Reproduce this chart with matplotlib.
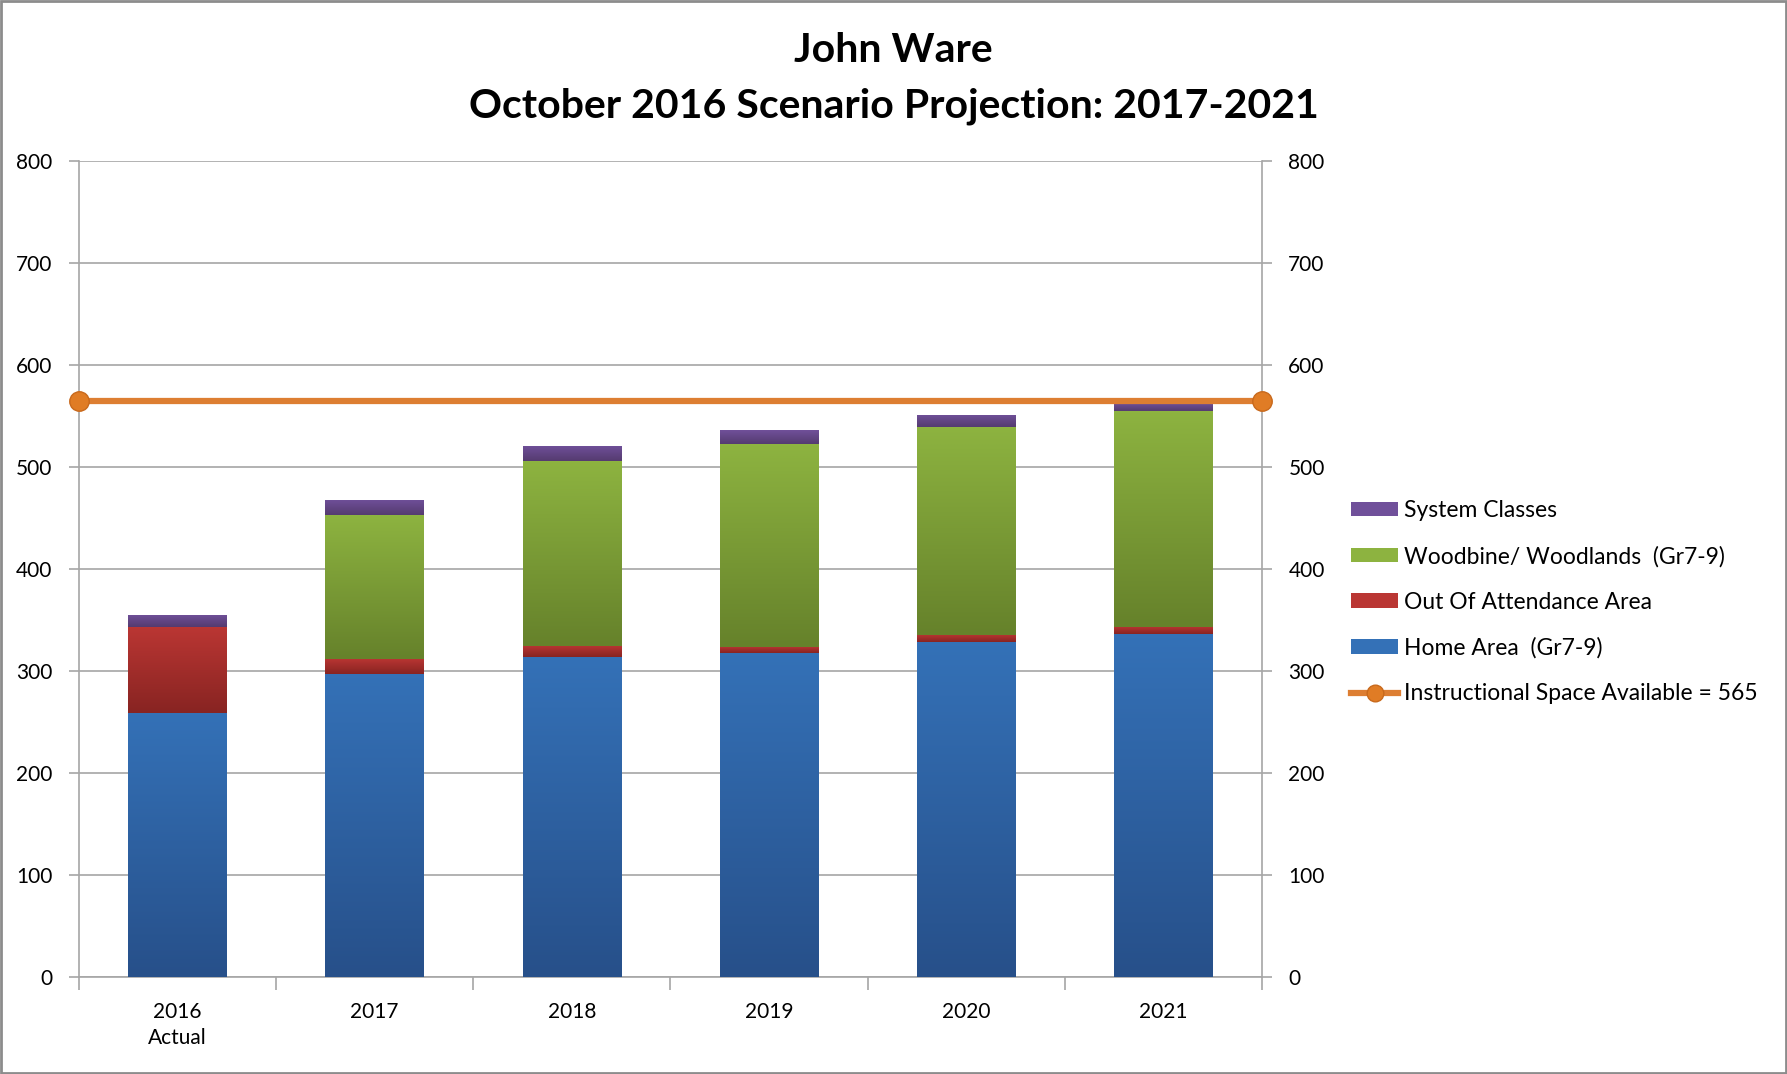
import numpy as np
import matplotlib
matplotlib.use("Agg")
import matplotlib.pyplot as plt
from matplotlib.colors import LinearSegmentedColormap
from matplotlib.patches import Rectangle, Patch
from matplotlib.lines import Line2D

plt.rcParams['font.family'] = ['Lato', 'DejaVu Sans']

categories = ["2016\nActual", "2017", "2018", "2019", "2020", "2021"]
home_area = [259, 297, 314, 318, 328, 336]
out_of_attendance = [84, 15, 11, 6, 7, 7]
woodbine = [0, 141, 181, 199, 204, 212]
system_classes = [12, 15, 15, 13, 12, 7]
capacity = 565

series = [
    ("Home Area  (Gr7-9)", home_area, "#3471B7", "#27508A"),
    ("Out Of Attendance Area", out_of_attendance, "#BA3633", "#882422"),
    ("Woodbine/ Woodlands  (Gr7-9)", woodbine, "#8DB340", "#66822B"),
    ("System Classes", system_classes, "#70509A", "#553B70"),
]

fig = plt.figure(figsize=(17.87, 10.74), dpi=100)
ax = fig.add_axes([0.0442, 0.0903, 0.662, 0.7597])

x = np.arange(len(categories))
bottom = np.zeros(len(categories))
handles = {}
for name, vals, ctop, cbot in series:
    vals = np.array(vals, dtype=float)
    bars = ax.bar(x, vals, 0.5, bottom=bottom, color=ctop, linewidth=0, zorder=3)
    cmap = LinearSegmentedColormap.from_list(name, [cbot, ctop])
    for rect in bars:
        h = rect.get_height()
        if h <= 0:
            continue
        x0 = rect.get_x(); w = rect.get_width(); y0 = rect.get_y()
        grad = np.linspace(1, 0, 64).reshape(-1, 1)
        im = ax.imshow(grad, cmap=cmap, aspect='auto', extent=(x0, x0 + w, y0, y0 + h),
                       zorder=3.5, interpolation='bilinear', vmin=0, vmax=1)
        im.set_clip_path(rect)
    bottom += vals
    handles[name] = Patch(facecolor=ctop, edgecolor='none')

n = len(categories)
line_x = np.array([0, n]) - 0.5
ax.plot(line_x, [capacity, capacity], color="#DD7E32", lw=4.5, marker='o', markersize=14,
        markerfacecolor="#E07C25", markeredgecolor="#C8691C", zorder=5, clip_on=False)

ax.set_xlim(-0.5, n - 0.5)
ax.set_ylim(0, 800)
ax.set_yticks(np.arange(0, 801, 100))
ax.yaxis.grid(True, color="#A6A6A6", lw=1.2, zorder=0)
ax.set_axisbelow(True)

ax.set_xticks(x)
ax.set_xticklabels(categories, fontsize=15, linespacing=1.35)
ax.set_xticks(np.arange(-0.5, n, 1.0), minor=True)
ax.tick_params(axis='x', which='major', length=0, pad=18)
ax.tick_params(axis='x', which='minor', length=9, color="#A6A6A6", width=1.2)
ax.tick_params(axis='y', which='both', length=7, color="#A6A6A6", width=1.2, labelsize=15,
               left=True, right=True, labelleft=True, labelright=True, pad=12)
for s in ['left', 'right', 'bottom']:
    ax.spines[s].set_color("#A6A6A6")
    ax.spines[s].set_linewidth(1.2)
ax.spines['top'].set_visible(False)

fig.text(0.5, 0.953, "John Ware", ha='center', va='center', fontsize=29.5, fontweight='bold')
fig.text(0.5, 0.901, "October 2016 Scenario Projection: 2017-2021", ha='center', va='center',
         fontsize=29.5, fontweight='bold')

leg_handles = [handles["System Classes"], handles["Woodbine/ Woodlands  (Gr7-9)"],
               handles["Out Of Attendance Area"], handles["Home Area  (Gr7-9)"],
               Line2D([0], [0], color="#DD7E32", lw=4.5, marker='o', markersize=12,
                      markerfacecolor="#E07C25", markeredgecolor="#C8691C")]
leg_labels = ["System Classes", "Woodbine/ Woodlands  (Gr7-9)", "Out Of Attendance Area",
              "Home Area  (Gr7-9)", "Instructional Space Available = 565"]
fig.legend(leg_handles, leg_labels, loc='upper left', bbox_to_anchor=(0.7445, 0.5535),
           frameon=False, fontsize=16.5, handlelength=2.05, handleheight=0.6,
           handletextpad=0.25, labelspacing=1.07)

fig.patches.append(Rectangle((0.0008, 0.001), 0.9984, 0.998, transform=fig.transFigure,
                             fill=False, edgecolor="#8C8C8C", lw=2))

fig.savefig("out.png", dpi=100)
